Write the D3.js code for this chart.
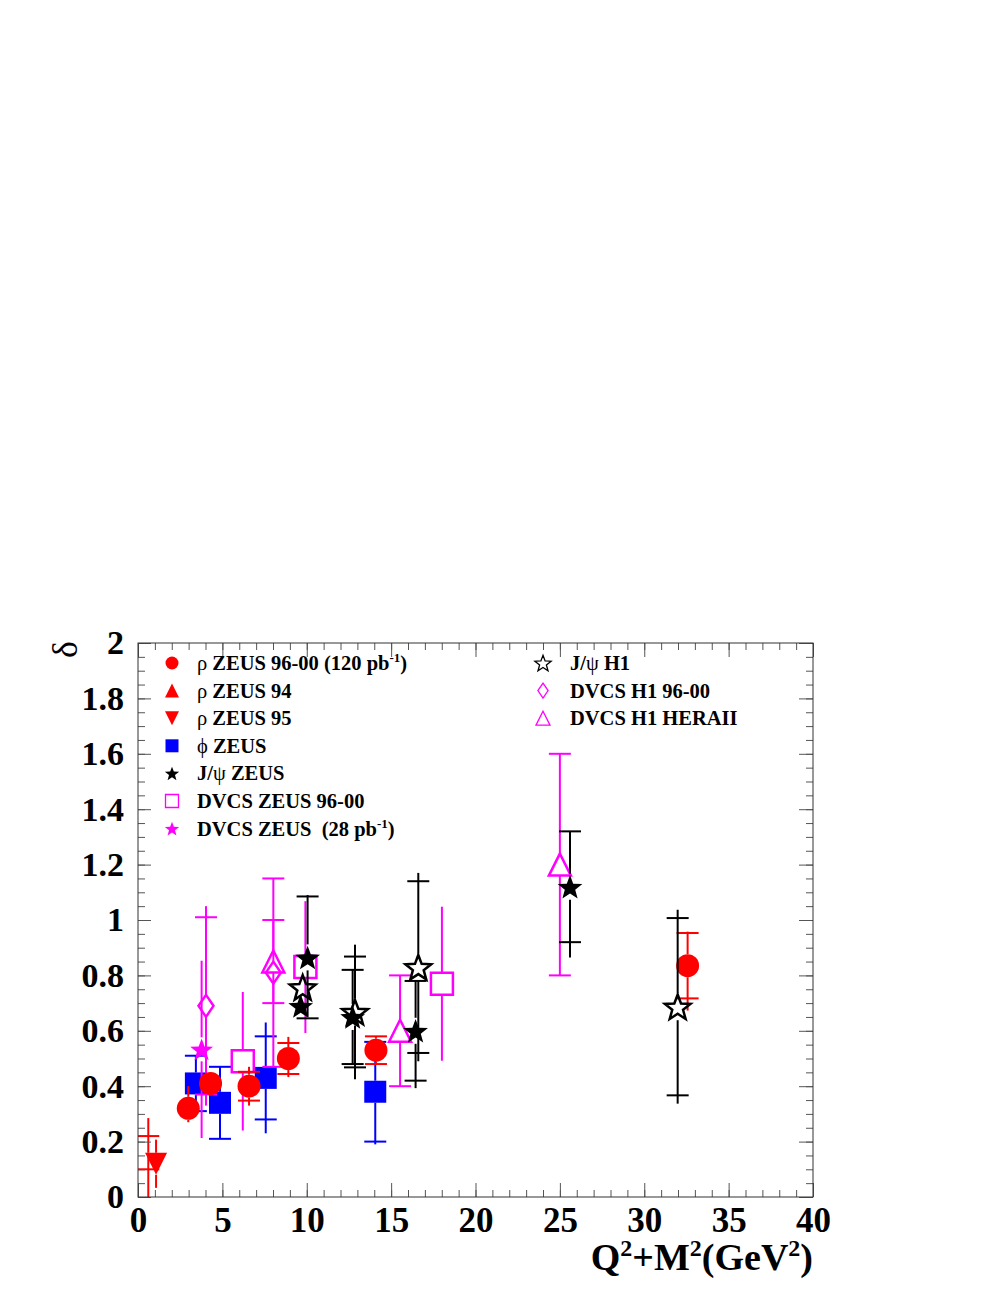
<!DOCTYPE html>
<html>
<head>
<meta charset="utf-8">
<script src="https://cdn.jsdelivr.net/npm/d3@7"></script>
<style>
  body { margin: 0; background: #fff; }
  text { font-family: "Liberation Serif", "Times New Roman", serif; font-weight: bold; }
</style>
</head>
<body>
<svg id="chart" width="997" height="1290"></svg>
<script>
// ---- data (x = Q2+M2, y = delta) ----
// cap = stat error (drawn with a cross bar), up/dn = full length of the vertical line

// rho ZEUS 96-00 (120 pb-1)
const rho9600X   = [2.98, 4.30, 6.58, 8.91, 14.1, 32.57];
const rho9600Y   = [0.32, 0.41, 0.40, 0.50, 0.53, 0.835];
const rho9600Cap = [0, 0, 0.052, 0.056, 0.05, 0.118];
const rho9600Up  = [0.08, 0.03, 0.07, 0.078, 0.05, 0.123];
const rho9600Dn  = [0.05, 0.03, 0.07, 0.067, 0.05, 0.162];

// rho ZEUS 94 (marker is not visible in the figure, only its error bar)
const rho94X   = [0.61];
const rho94Y   = [0.16];
const rho94Cap = [0.06];
const rho94Up  = [0.125];
const rho94Dn  = [0.2];

// rho ZEUS 95
const rho95X   = [1.07];
const rho95Y   = [0.12];
const rho95Cap = [0];
const rho95Up  = [0.087];
const rho95Dn  = [0.087];

// phi ZEUS
const phiX   = [3.43, 4.86, 7.57, 14.06];
const phiY   = [0.41, 0.34, 0.43, 0.38];
const phiCap = [0.10, 0.13, 0.15, 0.18];
const phiUp  = [0.10, 0.13, 0.20, 0.18];
const phiDn  = [0.10, 0.13, 0.20, 0.19];

// J/psi ZEUS
const jpsiZX   = [9.64, 10.05, 12.72, 16.45, 25.6];
const jpsiZY   = [0.69, 0.865, 0.65, 0.60, 1.12];
const jpsiZCap = [0, 0.22, 0.17, 0.18, 0.20];
const jpsiZUp  = [0.03, 0.225, 0.17, 0.18, 0.20];
const jpsiZDn  = [0.03, 0.215, 0.17, 0.207, 0.255];

// DVCS ZEUS 96-00
const dvcsZX  = [6.21, 9.92, 18.01];
const dvcsZY  = [0.49, 0.83, 0.77];
const dvcsZCap = [0, 0, 0];
const dvcsZUp = [0.25, 0.238, 0.278];
const dvcsZDn = [0.25, 0.238, 0.278];

// DVCS ZEUS (28 pb-1)
const dvcs28X   = [3.77];
const dvcs28Y   = [0.533];
const dvcs28Cap = [0];
const dvcs28Up  = [0.32];
const dvcs28Dn  = [0.32];

// J/psi H1
const jpsiHX   = [9.76, 12.86, 16.61, 31.98];
const jpsiHY   = [0.757, 0.668, 0.83, 0.687];
const jpsiHCap = [0, 0.20, 0.31, 0.32];
const jpsiHUp  = [0.03, 0.243, 0.34, 0.35];
const jpsiHDn  = [0.03, 0.243, 0.34, 0.35];

// DVCS H1 96-00
const dvcsH1X   = [4.03, 8.02];
const dvcsH1Y   = [0.69, 0.81];
const dvcsH1Cap = [0.32, 0.34];
const dvcsH1Up  = [0.36, 0.34];
const dvcsH1Dn  = [0.36, 0.34];

// DVCS H1 HERAII
const heraX   = [8.02, 15.53, 25.0];
const heraY   = [0.85, 0.60, 1.20];
const heraCap = [0.15, 0.20, 0.40];
const heraUp  = [0.15, 0.20, 0.40];
const heraDn  = [0.15, 0.20, 0.40];

// axis ticks
const xMajorTicks = [0, 5, 10, 15, 20, 25, 30, 35, 40];
const yMajorTicks = [0, 0.2, 0.4, 0.6, 0.8, 1, 1.2, 1.4, 1.6, 1.8, 2];

// ---- layout ----
const margin = { left: 138, top: 643 };
const width = 675, height = 554;

const svg = d3.select('#chart');
const g = svg.append('g').attr('transform', `translate(${margin.left},${margin.top})`);

const x = d3.scaleLinear().domain([0, 40]).range([0, width]);
const y = d3.scaleLinear().domain([0, 2]).range([height, 0]);

// marker shapes, s = half size in px
function markerPath(shape, s) {
    const p = d3.path();
    if (shape === 'circle') {
        p.arc(0, 0, s, 0, 2 * Math.PI);
    } else if (shape === 'square') {
        p.rect(-s, -s, 2 * s, 2 * s);
    } else if (shape === 'triUp') {
        p.moveTo(0, -s); p.lineTo(s, s); p.lineTo(-s, s); p.closePath();
    } else if (shape === 'triDown') {
        p.moveTo(0, s); p.lineTo(s, -s); p.lineTo(-s, -s); p.closePath();
    } else if (shape === 'diamond') {
        p.moveTo(0, -s); p.lineTo(0.68 * s, 0); p.lineTo(0, s); p.lineTo(-0.68 * s, 0); p.closePath();
    } else if (shape === 'star') {
        const r = s * 0.42;
        for (let i = 0; i < 10; i++) {
            const a = -Math.PI / 2 + i * Math.PI / 5;
            const rr = i % 2 === 0 ? s : r;
            const px = rr * Math.cos(a), py = rr * Math.sin(a) + s * 0.1;
            if (i === 0) p.moveTo(px, py); else p.lineTo(px, py);
        }
        p.closePath();
    }
    return p.toString();
}

const RED = '#ff0000', BLUE = '#0000ff', MAG = '#ff00ff', BLACK = '#000000';

// order = drawing order
const series = [
    { x: phiX, y: phiY, cap: phiCap, up: phiUp, dn: phiDn, shape: 'square', color: BLUE, filled: true, size: 11 },
    { x: dvcsZX, y: dvcsZY, cap: dvcsZCap, up: dvcsZUp, dn: dvcsZDn, shape: 'square', color: MAG, filled: false, size: 11 },
    { x: dvcs28X, y: dvcs28Y, cap: dvcs28Cap, up: dvcs28Up, dn: dvcs28Dn, shape: 'star', color: MAG, filled: true, size: 12 },
    { x: dvcsH1X, y: dvcsH1Y, cap: dvcsH1Cap, up: dvcsH1Up, dn: dvcsH1Dn, shape: 'diamond', color: MAG, filled: false, size: 11 },
    { x: heraX, y: heraY, cap: heraCap, up: heraUp, dn: heraDn, shape: 'triUp', color: MAG, filled: false, size: 11 },
    { x: rho94X, y: rho94Y, cap: rho94Cap, up: rho94Up, dn: rho94Dn, shape: 'triUp', color: RED, filled: true, size: 0 },
    { x: rho95X, y: rho95Y, cap: rho95Cap, up: rho95Up, dn: rho95Dn, shape: 'triDown', color: RED, filled: true, size: 11 },
    { x: rho9600X, y: rho9600Y, cap: rho9600Cap, up: rho9600Up, dn: rho9600Dn, shape: 'circle', color: RED, filled: true, size: 11.5 },
    { x: jpsiZX, y: jpsiZY, cap: jpsiZCap, up: jpsiZUp, dn: jpsiZDn, shape: 'star', color: BLACK, filled: true, size: 13 },
    { x: jpsiHX, y: jpsiHY, cap: jpsiHCap, up: jpsiHUp, dn: jpsiHDn, shape: 'star', color: BLACK, filled: false, size: 13.5 }
];

// clip to frame
svg.append('defs').append('clipPath').attr('id', 'frame')
    .append('rect').attr('x', 0).attr('y', 0).attr('width', width).attr('height', height);

const plot = g.append('g').attr('clip-path', 'url(#frame)');
const capHalf = 11;

series.forEach(s => {
    const pts = s.x.map((xv, i) => ({ x: xv, y: s.y[i], cap: s.cap[i], up: s.up[i], dn: s.dn[i] }));
    const sg = plot.append('g');
    const gap = s.size;

    pts.forEach(d => {
        const cx = x(d.x), cy = y(d.y);
        const top = y(d.y + d.up), bot = y(d.y - d.dn);
        // vertical line, with a hole where the marker sits
        if (top < cy - gap) {
            sg.append('line').attr('x1', cx).attr('x2', cx).attr('y1', top).attr('y2', cy - gap)
                .attr('stroke', s.color).attr('stroke-width', 2);
        }
        if (bot > cy + gap) {
            sg.append('line').attr('x1', cx).attr('x2', cx).attr('y1', cy + gap).attr('y2', bot)
                .attr('stroke', s.color).attr('stroke-width', 2);
        }
        if (d.cap > 0) {
            [d.y + d.cap, d.y - d.cap].forEach(v => {
                sg.append('line').attr('x1', cx - capHalf).attr('x2', cx + capHalf)
                    .attr('y1', y(v)).attr('y2', y(v))
                    .attr('stroke', s.color).attr('stroke-width', 2);
            });
        }
    });

    if (s.size > 0) {
        sg.selectAll('path.mk').data(pts).enter().append('path')
            .attr('class', 'mk')
            .attr('transform', d => `translate(${x(d.x)},${y(d.y)})`)
            .attr('d', markerPath(s.shape, s.size))
            .attr('fill', s.filled ? s.color : 'none')
            .attr('stroke', s.color)
            .attr('stroke-width', s.filled ? 0 : 2.5)
            .attr('stroke-linejoin', 'miter');
    }
});

// ---- axes: ROOT style, ticks inside on all four sides ----
const tickColor = '#555';
function styleAxis(sel) {
    sel.select('.domain').remove();
    sel.selectAll('.tick line').attr('stroke', tickColor);
    sel.selectAll('.tick text').attr('fill', '#000').style('font-family', '"Liberation Serif", serif')
        .style('font-weight', 'bold');
}

const xMinor = d3.range(0, 41, 1);
const yMinor = d3.range(0, 2.001, 0.05);

g.append('g').attr('transform', `translate(0,${height})`)
    .call(d3.axisBottom(x).tickValues(xMinor).tickSizeInner(-7).tickSizeOuter(0).tickFormat(''))
    .call(styleAxis);
g.append('g').attr('transform', `translate(0,${height})`)
    .call(d3.axisBottom(x).tickValues(xMajorTicks).tickSizeInner(-14).tickSizeOuter(0).tickPadding(10).tickFormat(d3.format('d')))
    .call(styleAxis)
    .selectAll('text').style('font-size', '35px');

g.append('g')
    .call(d3.axisTop(x).tickValues(xMinor).tickSizeInner(-7).tickSizeOuter(0).tickFormat(''))
    .call(styleAxis);
g.append('g')
    .call(d3.axisTop(x).tickValues(xMajorTicks).tickSizeInner(-14).tickSizeOuter(0).tickFormat(''))
    .call(styleAxis);

g.append('g')
    .call(d3.axisLeft(y).tickValues(yMinor).tickSizeInner(-7).tickSizeOuter(0).tickFormat(''))
    .call(styleAxis);
g.append('g')
    .call(d3.axisLeft(y).tickValues(yMajorTicks).tickSizeInner(-13).tickSizeOuter(0).tickPadding(14).tickFormat(d3.format('~g')))
    .call(styleAxis)
    .selectAll('text').style('font-size', '34px');

g.append('g').attr('transform', `translate(${width},0)`)
    .call(d3.axisRight(y).tickValues(yMinor).tickSizeInner(-7).tickSizeOuter(0).tickFormat(''))
    .call(styleAxis);
g.append('g').attr('transform', `translate(${width},0)`)
    .call(d3.axisRight(y).tickValues(yMajorTicks).tickSizeInner(-14).tickSizeOuter(0).tickFormat(''))
    .call(styleAxis);

// frame
g.append('rect').attr('x', 0).attr('y', 0).attr('width', width).attr('height', height)
    .attr('fill', 'none').attr('stroke', '#333').attr('stroke-width', 1);

// axis titles
const xt = svg.append('text').attr('x', margin.left + width).attr('y', 1270)
    .attr('text-anchor', 'end').style('font-size', '38px');
xt.append('tspan').text('Q');
xt.append('tspan').attr('dy', -14).style('font-size', '24px').text('2');
xt.append('tspan').attr('dy', 14).text('+M');
xt.append('tspan').attr('dy', -14).style('font-size', '24px').text('2');
xt.append('tspan').attr('dy', 14).text('(GeV');
xt.append('tspan').attr('dy', -14).style('font-size', '24px').text('2');
xt.append('tspan').attr('dy', 14).text(')');

svg.append('text').attr('transform', 'translate(77,641) rotate(-90)')
    .attr('text-anchor', 'end').style('font-size', '36px').style('font-weight', 'normal').text('δ');

// ---- legend ----
const legLeft = [
    { shape: 'circle', color: RED, filled: true, size: 6.5, greek: 'ρ', label: ' ZEUS 96-00 (120 pb', sup: '-1', tail: ')' },
    { shape: 'triUp', color: RED, filled: true, size: 7, greek: 'ρ', label: ' ZEUS 94' },
    { shape: 'triDown', color: RED, filled: true, size: 7, greek: 'ρ', label: ' ZEUS 95' },
    { shape: 'square', color: BLUE, filled: true, size: 6.5, greek: 'ϕ', label: ' ZEUS' },
    { shape: 'star', color: BLACK, filled: true, size: 7.5, greek: 'J/ψ', label: ' ZEUS' },
    { shape: 'square', color: MAG, filled: false, size: 6.5, greek: '', label: 'DVCS ZEUS 96-00' },
    { shape: 'star', color: MAG, filled: true, size: 7.5, greek: '', label: 'DVCS ZEUS  (28 pb', sup: '-1', tail: ')' }
];
const legRight = [
    { shape: 'star', color: BLACK, filled: false, size: 8.5, greek: 'J/ψ', label: ' H1' },
    { shape: 'diamond', color: MAG, filled: false, size: 7.5, greek: '', label: 'DVCS H1 96-00' },
    { shape: 'triUp', color: MAG, filled: false, size: 7, greek: '', label: 'DVCS H1 HERAII' }
];

function drawLegend(items, mx, tx, y0) {
    items.forEach((d, i) => {
        const yy = y0 + i * 27.6;
        svg.append('path')
            .attr('transform', `translate(${mx},${yy})`)
            .attr('d', markerPath(d.shape, d.size))
            .attr('fill', d.filled ? d.color : 'none')
            .attr('stroke', d.color)
            .attr('stroke-width', d.filled ? 0 : 1.3);
        const t = svg.append('text').attr('x', tx).attr('y', yy + 7).style('font-size', '20.5px')
            .attr('xml:space', 'preserve');
        if (d.greek === 'J/ψ') {
            t.append('tspan').text('J/');
            t.append('tspan').style('font-weight', 'normal').text('ψ');
        } else if (d.greek) {
            t.append('tspan').style('font-weight', 'normal').text(d.greek);
        }
        t.append('tspan').text(d.label);
        if (d.sup) {
            t.append('tspan').attr('dy', -8).style('font-size', '13px').text(d.sup);
            t.append('tspan').attr('dy', 8).text(d.tail);
        }
    });
}
drawLegend(legLeft, 172, 197, 663);
drawLegend(legRight, 543, 570, 663);
</script>
</body>
</html>
